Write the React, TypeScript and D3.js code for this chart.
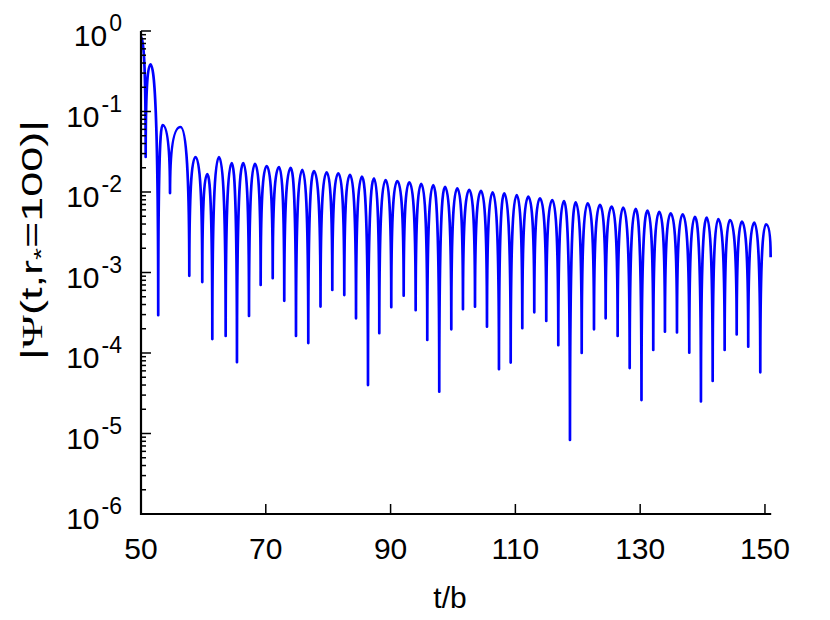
import React, { useEffect, useRef } from "react";
import * as d3 from "d3";

// extrema of |Psi|
const dipT = [50.75, 52.76, 54.65, 57.74, 59.82, 61.43, 63.57, 65.38, 67.31, 69.18, 71.11, 72.96, 74.84, 76.81, 78.77, 80.66, 82.58, 84.46, 86.38, 88.19, 90.11, 92.1, 94.02, 95.88, 97.8, 99.73, 101.6, 103.53, 105.45, 107.37, 109.25, 111.11, 113.03, 114.95, 116.88, 118.75, 120.63, 122.6, 124.47, 126.39, 128.32, 130.21, 132.1, 133.97, 135.9, 137.87, 139.74, 141.62, 143.54, 145.47, 147.32, 149.25];
const dipPsi = [0.0272, 2.95e-4, 0.0097, 9.1e-4, 7.6e-4, 1.49e-4, 1.63e-4, 7.7e-5, 2.88e-4, 7.0e-4, 8.5e-4, 4.45e-4, 1.63e-4, 1.33e-4, 3.77e-4, 6.06e-4, 5.25e-4, 2.7e-4, 4.0e-5, 1.76e-4, 3.7e-4, 5.15e-4, 3.4e-4, 1.45e-4, 3.3e-5, 1.97e-4, 3.5e-4, 3.76e-4, 2.12e-4, 6.3e-5, 7.6e-5, 2.03e-4, 3.2e-4, 2.5e-4, 1.25e-4, 8.3e-6, 1.0e-4, 1.97e-4, 2.7e-4, 1.63e-4, 6.5e-5, 2.6e-5, 1.09e-4, 1.84e-4, 1.8e-4, 1.01e-4, 2.5e-5, 4.5e-5, 1.09e-4, 1.7e-4, 1.2e-4, 5.75e-5];
const peakT = [51.52, 53.45, 56.33, 58.73, 60.63, 62.5, 64.54, 66.39, 68.27, 70.14, 72.12, 73.99, 75.85, 77.72, 79.76, 81.62, 83.49, 85.42, 87.34, 89.21, 91.07, 93.0, 94.92, 96.84, 98.72, 100.69, 102.61, 104.49, 106.36, 108.22, 110.21, 112.07, 113.94, 115.91, 117.79, 119.66, 121.59, 123.56, 125.43, 127.29, 129.28, 131.17, 133.06, 134.89, 136.81, 138.78, 140.66, 142.52, 144.39, 146.31, 148.29, 150.16];
const peakPsi = [0.384, 0.068, 0.0642, 0.0272, 0.0167, 0.0272, 0.0229, 0.0229, 0.0223, 0.021, 0.0204, 0.0199, 0.0188, 0.0182, 0.0176, 0.0171, 0.0163, 0.0155, 0.0148, 0.0141, 0.0137, 0.0132, 0.0126, 0.0122, 0.0116, 0.0111, 0.0106, 0.0103, 0.0099, 0.00964, 0.00918, 0.00874, 0.00835, 0.00796, 0.00773, 0.00745, 0.00724, 0.00691, 0.0066, 0.00638, 0.00616, 0.00586, 0.00565, 0.00543, 0.00528, 0.00493, 0.0048, 0.00462, 0.00449, 0.00428, 0.00416, 0.00397];
// first and last sample of the trace
const edgeT = [50, 150.91];
const edgePsi = [0.85, 1.55e-3];

const xTicks = [50, 70, 90, 110, 130, 150];
const yExps = [0, -1, -2, -3, -4, -5, -6];

const FONT = "'Liberation Sans', Arial, Helvetica, sans-serif";

// rises vertically out of a dip, flattens into a peak
const curveHump = (context: any) => {
  let x0 = NaN, y0 = NaN, started = false;
  return {
    areaStart() {},
    areaEnd() {},
    lineStart() { started = false; },
    lineEnd() {},
    point(x: number, y: number) {
      x = +x; y = +y;
      if (!started) {
        context.moveTo(x, y);
        started = true;
      } else {
        const cx = y0 > y ? x0 : x;
        context.quadraticCurveTo(cx, Math.min(y0, y), x, y);
      }
      x0 = x; y0 = y;
    },
  };
};

const App = () => {
  const ref = useRef<SVGSVGElement>(null);

  useEffect(() => {
    drawChart();
  }, []);

  const drawChart = () => {
    const svg = d3.select(ref.current);
    svg.selectAll("*").remove();

    const x = d3.scaleLinear().domain([50, 151]).range([141, 771.2]);
    const y = d3.scaleLog().domain([1e-6, 1]).range([514, 31]);

    const pts = [
      ...dipT.map((t, i) => ({ t, psi: dipPsi[i] })),
      ...peakT.map((t, i) => ({ t, psi: peakPsi[i] })),
      ...edgeT.map((t, i) => ({ t, psi: edgePsi[i] })),
    ].sort((a, b) => a.t - b.t);

    const line = d3.line<any>()
      .x((d) => x(d.t))
      .y((d) => y(d.psi))
      .curve(curveHump as any);

    svg.append("path")
      .attr("d", line(pts))
      .attr("fill", "none")
      .attr("stroke", "#0000ff")
      .attr("stroke-width", 2.7)
      .attr("stroke-linejoin", "round");

    const [x0, x1] = x.range();
    const [yb, yt] = y.range();

    // y ticks (inward)
    svg.append("g")
      .selectAll("line")
      .data(y.ticks())
      .join("line")
      .attr("x1", x0)
      .attr("x2", (d) => {
        const major = Math.abs(Math.log10(d) - Math.round(Math.log10(d))) < 1e-9;
        return x0 + (major ? 10 : 5);
      })
      .attr("y1", (d) => y(d))
      .attr("y2", (d) => y(d))
      .attr("stroke", "#000")
      .attr("stroke-width", 1.5);

    // x ticks (inward)
    svg.append("g")
      .selectAll("line")
      .data(xTicks)
      .join("line")
      .attr("x1", (d) => x(d))
      .attr("x2", (d) => x(d))
      .attr("y1", yb)
      .attr("y2", yb - 10)
      .attr("stroke", "#000")
      .attr("stroke-width", 1.5);

    // axis lines
    svg.append("path")
      .attr("d", `M${x0},${yt}V${yb}H${x1}`)
      .attr("fill", "none")
      .attr("stroke", "#000")
      .attr("stroke-width", 2.2);

    // y labels 10^n
    const yl = svg.append("g")
      .selectAll("text")
      .data(yExps)
      .join("text")
      .attr("x", 122)
      .attr("y", (d) => y(Math.pow(10, d)) + 15)
      .attr("text-anchor", "end")
      .attr("font-family", FONT)
      .attr("font-size", 30)
      .attr("fill", "#000");
    yl.append("tspan").text("10");
    yl.append("tspan")
      .attr("dx", 2)
      .attr("dy", -15)
      .attr("font-size", 23)
      .text((d) => String(d));

    // x labels
    svg.append("g")
      .selectAll("text")
      .data(xTicks)
      .join("text")
      .attr("x", (d) => x(d))
      .attr("y", 559)
      .attr("text-anchor", "middle")
      .attr("font-family", FONT)
      .attr("font-size", 30)
      .attr("fill", "#000")
      .text((d) => d);

    svg.append("text")
      .attr("x", 450)
      .attr("y", 608)
      .attr("text-anchor", "middle")
      .attr("font-family", FONT)
      .attr("font-size", 30)
      .attr("fill", "#000")
      .text("t/b");

    const ttl = svg.append("text")
      .attr("transform", "translate(42,240) rotate(-90)")
      .attr("text-anchor", "middle")
      .attr("font-family", FONT)
      .attr("font-size", 29)
      .attr("textLength", 240)
      .attr("lengthAdjust", "spacingAndGlyphs")
      .attr("fill", "#000");
    ttl.append("tspan").text("|");
    ttl.append("tspan").attr("font-family", "'Liberation Serif', 'DejaVu Serif', serif").text("Ψ");
    ttl.append("tspan").text("(t,r");
    ttl.append("tspan").attr("font-size", 20).attr("dy", 6).text("*");
    ttl.append("tspan").attr("dy", -6).text("=100)|");
  };

  return (
    <div>
      <svg
        ref={ref}
        width={830}
        height={620}
        style={{ position: "absolute", left: 0, top: 0, background: "#fff" }}
      />
    </div>
  );
};

export default App;
